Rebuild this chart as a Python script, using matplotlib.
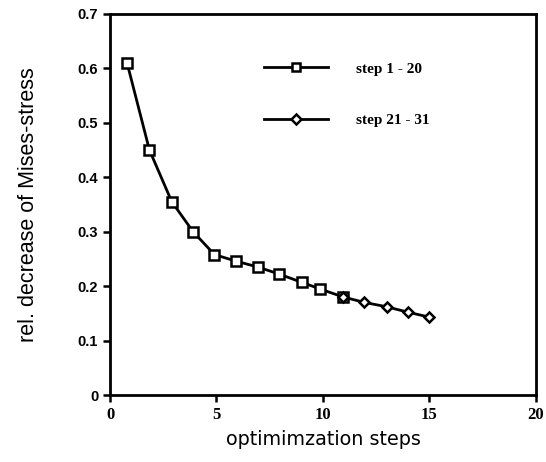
import numpy as np
import matplotlib.pyplot as plt
from matplotlib.lines import Line2D

# values
steps_a = [0.8, 1.85, 2.9, 3.9, 4.9, 5.9, 6.95, 7.95, 9.0, 9.85, 10.95]
stress_a = [0.61, 0.45, 0.355, 0.30, 0.258, 0.246, 0.235, 0.222, 0.207, 0.195, 0.18]
steps_b = [10.95, 11.95, 13.0, 14.0, 15.0]
stress_b = [0.18, 0.17, 0.162, 0.152, 0.143]

xticks = [0, 5, 10, 15, 20]
yticks = [0, 0.1, 0.2, 0.3, 0.4, 0.5, 0.6, 0.7]
ylabels = ["0", "0.1", "0.2", "0.3", "0.4", "0.5", "0.6", "0.7"]
legend_labels = ["step 1 - 20", "step 21 - 31"]

fig = plt.figure(figsize=(5.46, 4.62), dpi=100)
ax = fig.add_axes([0.2015, 0.145, 0.78, 0.825])

ax.plot(steps_a, stress_a, color="black", lw=2, marker="s", ms=7,
        mfc="white", mec="black", mew=1.8)
ax.plot(steps_b, stress_b, color="black", lw=2, marker="D", ms=5.5,
        mfc="white", mec="black", mew=1.8)

ax.set_xlim(0, 20)
ax.set_ylim(0, 0.7)
ax.set_xticks(xticks)
ax.set_yticks(yticks)
ax.set_yticklabels(ylabels, fontfamily="Liberation Sans", fontweight="bold", fontsize=10.5)
ax.set_xticklabels([str(t) for t in xticks], fontfamily="Liberation Serif",
                   fontweight="bold", fontsize=12)
ax.tick_params(axis="both", direction="out", length=5, width=1.8)
for s in ax.spines.values():
    s.set_linewidth(2)

ax.set_ylabel("rel. decrease of Mises-stress", fontfamily="Liberation Sans",
              fontsize=15.5, labelpad=28)
ax.set_xlabel("optimimzation steps", fontfamily="DejaVu Sans", fontsize=13.8,
              labelpad=5)

handles = [
    Line2D([], [], color="black", lw=2, marker="s", ms=6, mfc="white", mec="black", mew=1.8),
    Line2D([], [], color="black", lw=2, marker="D", ms=5, mfc="white", mec="black", mew=1.8),
]
ax.legend(handles, legend_labels, loc="upper left", bbox_to_anchor=(0.33, 0.91),
          frameon=False, handlelength=4.2, handletextpad=1.8, labelspacing=2.5,
          prop={"family": "Liberation Serif", "weight": "bold", "size": 11})

fig.savefig("out.png", dpi=100)
